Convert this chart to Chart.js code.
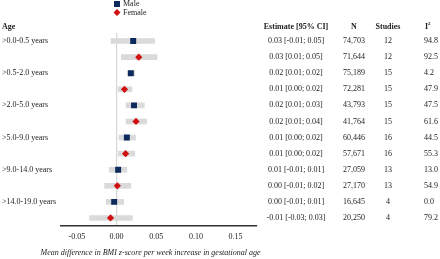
<!DOCTYPE html>
<html>
<head>
<meta charset="utf-8">
<script src="https://cdn.jsdelivr.net/npm/chart.js@4"></script>
<style>
  html, body { margin: 0; padding: 0; background: #fff; }
  #wrap { width: 440px; height: 259px; position: relative; }
</style>
</head>
<body>
<div id="wrap"><canvas id="forestChart"></canvas></div>
<script>
// values
const ageGroups = [">0.0-0.5 years", ">0.5-2.0 years", ">2.0-5.0 years", ">5.0-9.0 years", ">9.0-14.0 years", ">14.0-19.0 years"];

const maleEst = [0.021, 0.018, 0.022, 0.013, 0.002, -0.003];
const maleLow = [-0.007, 0.014, 0.012, 0.003, -0.009, -0.013];
const maleHigh = [0.048, 0.023, 0.035, 0.024, 0.013, 0.009];

const femaleEst = [0.028, 0.010, 0.0245, 0.0114, 0.001, -0.0076];
const femaleLow = [0.006, 0.002, 0.012, 0.002, -0.015, -0.034];
const femaleHigh = [0.051, 0.0195, 0.038, 0.023, 0.018, 0.020];

const maleText = ["0.03 [-0.01; 0.05]", "0.02 [0.01; 0.02]", "0.02 [0.01; 0.03]", "0.01 [0.00; 0.02]", "0.01 [-0.01; 0.01]", "0.00 [-0.01; 0.01]"];
const femaleText = ["0.03 [0.01; 0.05]", "0.01 [0.00; 0.02]", "0.02 [0.01; 0.04]", "0.01 [0.00; 0.02]", "0.00 [-0.01; 0.02]", "-0.01 [-0.03; 0.03]"];
const maleN = ["74,703", "75,189", "43,793", "60,446", "27,059", "16,645"];
const femaleN = ["71,644", "72,281", "41,764", "57,671", "27,170", "20,250"];
const maleStudies = [12, 15, 15, 16, 13, 4];
const femaleStudies = [12, 15, 15, 16, 13, 4];
const maleI2 = ["94.8", "4.2", "47.5", "44.5", "13.0", "0.0"];
const femaleI2 = ["92.5", "47.9", "61.6", "55.3", "54.9", "79.2"];

const tickValues = [-0.05, 0.00, 0.05, 0.10, 0.15];
const xTitle = "Mean difference in BMI z-score per week increase in gestational age";

// one row per sex inside each age group: male first, then female
var rowKeys = [];
var ciData = [];
var maleData = [];
var femaleData = [];
var rowText = [];
ageGroups.forEach((g, i) => {
  rowKeys.push(g + " male");
  ciData.push([maleLow[i], maleHigh[i]]);
  maleData.push(maleEst[i]);
  femaleData.push(null);
  rowText.push([maleText[i], maleN[i], maleStudies[i], maleI2[i]]);

  rowKeys.push(g + " female");
  ciData.push([femaleLow[i], femaleHigh[i]]);
  maleData.push(null);
  femaleData.push(femaleEst[i]);
  rowText.push([femaleText[i], femaleN[i], femaleStudies[i], femaleI2[i]]);
});

const navy = "#0d2a5c";
const red = "#d10f0f";
const serif = "'Liberation Serif', 'Times New Roman', serif";

const tablePlugin = {
  id: "tablePlugin",
  afterDraw(chart) {
    const ctx = chart.ctx;
    const yScale = chart.scales.y;
    ctx.save();
    ctx.fillStyle = "#222";
    ctx.textBaseline = "middle";

    // headers
    ctx.font = "bold 8px " + serif;
    ctx.textAlign = "left";
    ctx.fillText("Age", 2, 27);
    ctx.textAlign = "center";
    ctx.fillText("Estimate [95% CI]", 296, 27);
    ctx.fillText("N", 354, 27);
    ctx.fillText("Studies", 388, 27);
    ctx.textAlign = "left";
    ctx.fillText("I", 425, 27);
    ctx.font = "bold 5px " + serif;
    ctx.fillText("2", 428, 24);

    ctx.font = "8px " + serif;
    ageGroups.forEach((g, i) => {
      ctx.textAlign = "left";
      ctx.fillText(g, 2, yScale.getPixelForValue(i * 2));
    });
    rowText.forEach((r, i) => {
      const y = yScale.getPixelForValue(i);
      ctx.textAlign = "center";
      ctx.fillText(r[0], 296, y);
      ctx.fillText(r[1], 354, y);
      ctx.fillText(String(r[2]), 388, y);
      ctx.textAlign = "left";
      ctx.fillText(r[3], 424, y);
    });

    // legend
    ctx.fillStyle = navy;
    ctx.fillRect(114, 1, 6, 6);
    ctx.fillStyle = red;
    ctx.beginPath();
    ctx.moveTo(117, 9);
    ctx.lineTo(120.5, 12.5);
    ctx.lineTo(117, 16);
    ctx.lineTo(113.5, 12.5);
    ctx.closePath();
    ctx.fill();
    ctx.fillStyle = "#222";
    ctx.textAlign = "left";
    ctx.fillText("Male", 123, 4);
    ctx.fillText("Female", 123, 13);

    // axis title
    ctx.font = "italic 8px " + serif;
    ctx.textAlign = "center";
    ctx.fillText(xTitle, 150.5, 253);
    ctx.restore();
  },
};

var forestChart = new Chart(document.getElementById("forestChart").getContext("2d"), {
  type: "bar",
  data: {
    labels: rowKeys,
    datasets: [
      {
        type: "line",
        label: "Male",
        data: maleData,
        indexAxis: "y",
        showLine: false,
        pointStyle: "rect",
        pointRadius: 4.2,
        pointBackgroundColor: navy,
        pointBorderColor: navy,
        pointBorderWidth: 0,
        order: 1,
      },
      {
        type: "line",
        label: "Female",
        data: femaleData,
        indexAxis: "y",
        showLine: false,
        pointStyle: "rectRot",
        pointRadius: 3.6,
        pointBackgroundColor: red,
        pointBorderColor: red,
        pointBorderWidth: 0,
        order: 1,
      },
      {
        label: "95% CI",
        data: ciData,
        backgroundColor: "#dadada",
        barThickness: 5,
        borderSkipped: false,
        order: 2,
      },
    ],
  },
  options: {
    indexAxis: "y",
    responsive: true,
    maintainAspectRatio: false,
    animation: false,
    layout: {
      padding: { left: 61, right: 183, top: 33, bottom: 0 },
    },
    plugins: {
      legend: { display: false },
      tooltip: { enabled: false },
    },
    scales: {
      y: {
        type: "category",
        display: false,
      },
      x: {
        type: "linear",
        min: -0.07,
        max: 0.177,
        afterBuildTicks: (scale) => {
          scale.ticks = tickValues.map((v) => ({ value: v }));
        },
        afterFit: (scale) => {
          scale.height = 33;
        },
        ticks: {
          callback: (v) => v.toFixed(2),
          font: { family: serif, size: 8 },
          color: "#222",
          padding: 6,
          maxRotation: 0,
        },
        grid: {
          drawTicks: false,
          color: (c) => (c.tick && c.tick.value === 0 ? "#d6d6d6" : "rgba(0,0,0,0)"),
          lineWidth: 1.2,
        },
        border: {
          display: true,
          color: "#333",
          width: 1.6,
        },
      },
    },
  },
  plugins: [tablePlugin],
});
</script>
</body>
</html>
